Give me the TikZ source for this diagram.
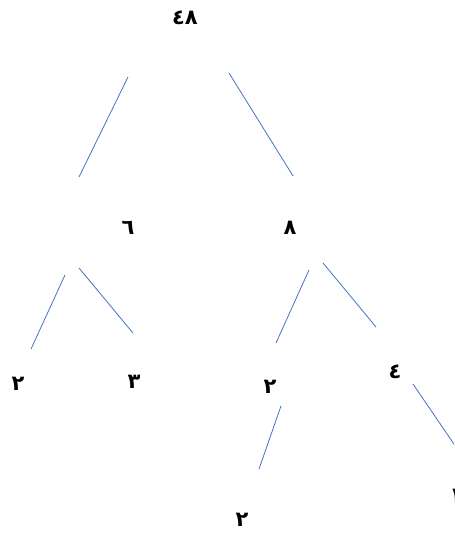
\documentclass[tikz,border=0pt]{standalone}
\usepackage{fontspec}
\newfontfamily\arabicfont[Script=Arabic]{DejaVu Sans}
\begin{document}
\begin{tikzpicture}[x=1pt,y=-1pt,
  num/.style={font=\arabicfont\bfseries\fontsize{21}{24}\selectfont, inner sep=0pt, text=black},
  edge/.style={draw={rgb,255:red,68;green,114;blue,196}, line width=0.8pt}]
\useasboundingbox (0,0) rectangle (454,534);
\clip (0,0) rectangle (454,534);
\node[num] (n48) at (185,18) {٤٨};
\node[num] (n6) at (128,228) {٦};
\node[num] (n8) at (290,228) {٨};
\node[num] (a2) at (18,384) {٢};
\node[num] (a3) at (134,382) {٣};
\node[num] (b2) at (270,387) {٢};
\node[num] (b4) at (395,372) {٤};
\node[num] (c2) at (242,520) {٢};
\node[num] (c1) at (456,496) {١};
\coordinate (p1a) at (128,77); \coordinate (p1b) at (79,177);
\coordinate (p2a) at (229,73); \coordinate (p2b) at (293,176);
\coordinate (p3a) at (65,275); \coordinate (p3b) at (31,349);
\coordinate (p4a) at (79,268); \coordinate (p4b) at (133,333);
\coordinate (p5a) at (309,270); \coordinate (p5b) at (276,343);
\coordinate (p6a) at (323,263); \coordinate (p6b) at (376,327);
\coordinate (p7a) at (281,406); \coordinate (p7b) at (259,469);
\coordinate (p8a) at (413,384); \coordinate (p8b) at (458,450);
\draw[edge] (p1a) -- (p1b);
\draw[edge] (p2a) -- (p2b);
\draw[edge] (p3a) -- (p3b);
\draw[edge] (p4a) -- (p4b);
\draw[edge] (p5a) -- (p5b);
\draw[edge] (p6a) -- (p6b);
\draw[edge] (p7a) -- (p7b);
\draw[edge] (p8a) -- (p8b);
\end{tikzpicture}
\end{document}
